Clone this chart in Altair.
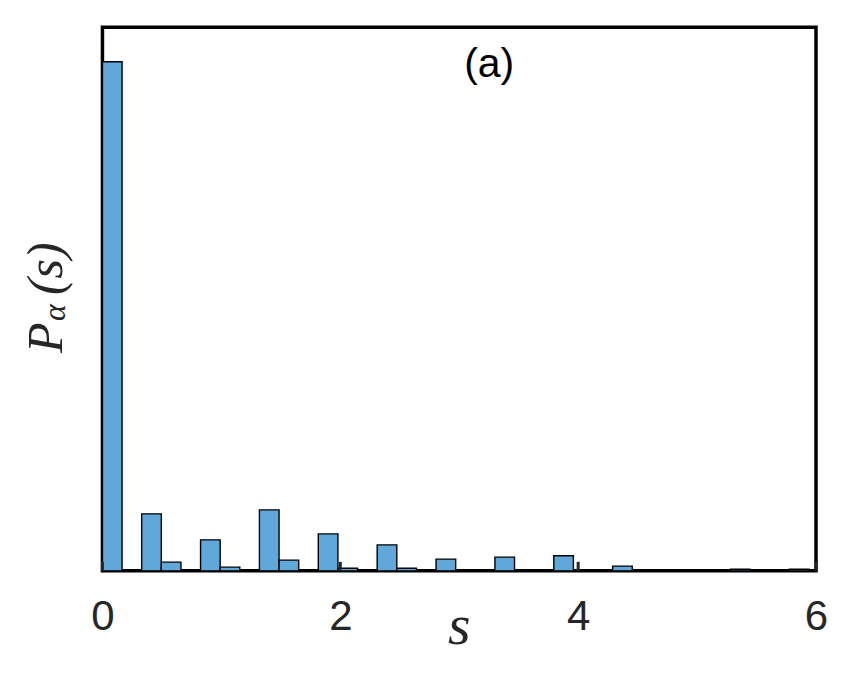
import altair as alt
import pandas as pd

# Histogram data
bin_width = 0.165
bin_index = [0, 2, 3, 5, 6, 8, 9, 11, 12, 14, 15, 17, 20, 23, 26, 32, 35]
density = [3.858, 0.432, 0.066, 0.235, 0.028, 0.462, 0.081, 0.280, 0.020,
           0.197, 0.020, 0.089, 0.104, 0.114, 0.036, 0.012, 0.012]
x_ticks = [0, 2, 4, 6]

bars_df = pd.DataFrame({
    "start": [k * bin_width for k in bin_index],
    "end": [(k + 1) * bin_width for k in bin_index],
    "p": density,
    "base": [0.0] * len(bin_index),
})
ticks_df = pd.DataFrame({"t": x_ticks})

W, H = 714, 544
xscale = alt.Scale(domain=[0, 6], nice=False, zero=False)
yscale = alt.Scale(domain=[0, 4.12], nice=False)

bars = alt.Chart(bars_df).mark_bar(
    color="#5fa8d9", stroke="black", strokeWidth=1.4
).encode(
    x=alt.X("start:Q", scale=xscale, axis=alt.Axis(
        values=x_ticks, format="d", ticks=False, domain=False, grid=False,
        title=None, labelFont="Liberation Sans", labelFontSize=42,
        labelColor="#262626", labelPadding=26, labelFlush=False,
        labelBound=False)),
    x2="end:Q",
    y=alt.Y("p:Q", scale=yscale, axis=None),
    y2="base:Q",
)

ticks = alt.Chart(ticks_df).mark_rule(color="#262626", strokeWidth=3).encode(
    x=alt.X("t:Q", scale=xscale),
    y=alt.value(H - 9),
    y2=alt.value(H),
)

def label(text, x, y, **kw):
    return alt.Chart(alt.Data(values=[{}])).mark_text(**kw).encode(
        text=alt.value(text), x=alt.value(x), y=alt.value(y))

serif = dict(font="Liberation Serif", fontStyle="italic", color="#262626")
yl_P = label("P", -40, 326, angle=270, align="left", baseline="alphabetic",
             fontSize=50, **serif)
yl_a = label("α", -37, 294, angle=270, align="left", baseline="alphabetic",
             fontSize=32, **serif)
yl_s = label("(s)", -40, 268, angle=270, align="left", baseline="alphabetic",
             fontSize=50, **serif)
xl = label("s", W / 2, 617, align="center", baseline="alphabetic",
           fontSize=58, **serif)
panel = label("(a)", 387, 50, align="center", baseline="alphabetic",
              font="Liberation Sans", fontSize=41, color="black")

chart = alt.layer(bars, ticks, yl_P, yl_a, yl_s, xl, panel).properties(
    width=W, height=H,
    autosize=alt.AutoSizeParams(type="none"),
    padding={"left": 94.5, "top": 19, "right": 26, "bottom": 100},
).configure_view(stroke="black", strokeWidth=3.5)

chart.save("out.html", embed_options={"renderer": "svg", "actions": False})
